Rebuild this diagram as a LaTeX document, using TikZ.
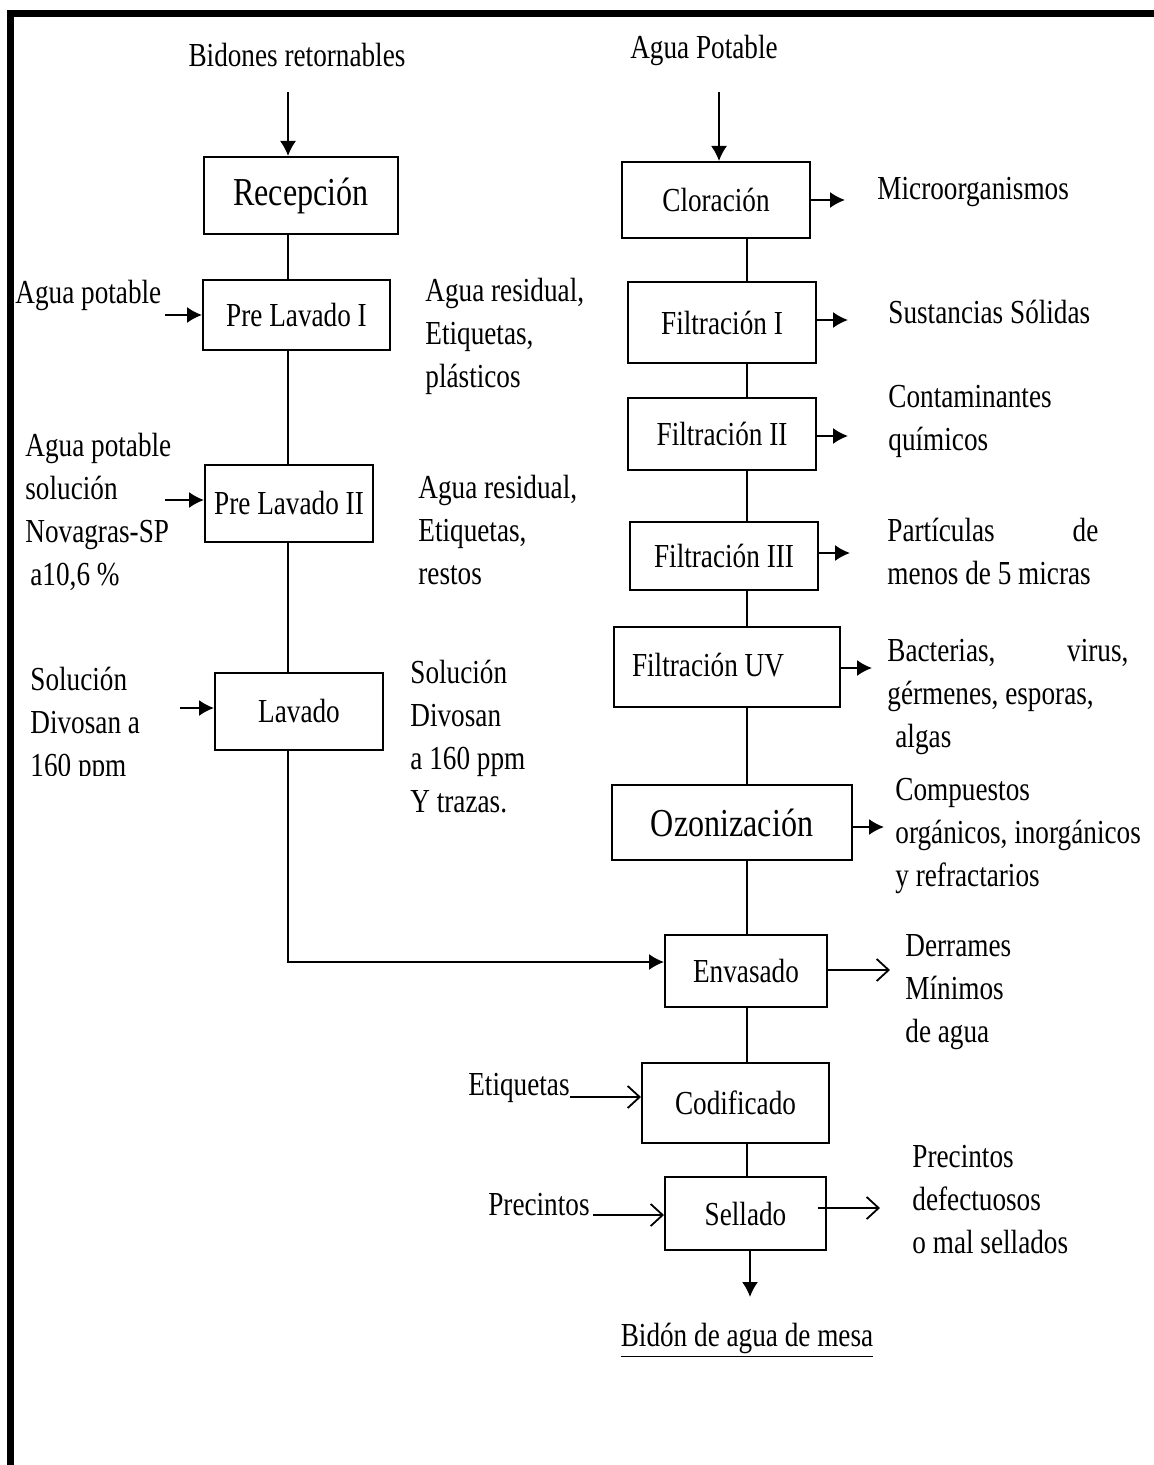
\documentclass[tikz,border=0pt]{standalone}
\usepackage{fontspec}
\setmainfont{Liberation Serif}[FakeStretch=0.81]
\usetikzlibrary{arrows.meta,calc}
\begin{document}
\begin{tikzpicture}[x=0.5pt,y=-0.5pt,
  every node/.style={font=\fontsize{16.8pt}{21.5pt}\selectfont},
  pbox/.style={draw, line width=1pt, inner sep=0pt},
  bigtext/.style={font=\fontsize{19.8pt}{24pt}\selectfont},
  txt/.style={align=left, inner sep=0pt, anchor=west},
  conn/.style={line width=0.8pt},
  farrow/.style={line width=0.9pt, -{Latex[length=7.5pt,width=8pt]}},
  oarrow/.style={line width=0.9pt, -{Straight Barb[length=6pt,width=11pt]}}]
\useasboundingbox (0,0) rectangle (1154,1465);
\fill[white] (0,0) rectangle (1154,1465);
% frame
\draw[line width=3.5pt] (10,1465) -- (10,14) -- (1154,14);

% column reference coordinates
\coordinate (lx) at (288,0);
\coordinate (rx) at (747,0);
\coordinate (tx) at (719,0);

% top labels
\node (bid) at (297,55) {Bidones retornables};
\node (agp) at (704,50) {Agua Potable};

% left column boxes
\node[pbox, bigtext, minimum width=97pt, minimum height=38.5pt] (rec) at (301,195.5) {Recepción};
\node[pbox, minimum width=93.5pt, minimum height=35pt] (pl1) at (296.5,315) {Pre Lavado I};
\node[pbox, minimum width=84pt, minimum height=38.5pt] (pl2) at (289,503.5) {Pre Lavado II};
\node[pbox, minimum width=84pt, minimum height=38.5pt] (lav) at (299,711.5) {Lavado};

% right column boxes
\node[pbox, minimum width=94pt, minimum height=38pt] (clo) at (716,200) {Cloración};
\node[pbox, minimum width=94pt, minimum height=40.5pt] (f1) at (722,322.5) {Filtración I};
\node[pbox, minimum width=94pt, minimum height=36pt] (f2) at (722,434) {Filtración II};
\node[pbox, minimum width=94pt, minimum height=34pt] (f3) at (724,556) {Filtración III};
\node[pbox, minimum width=113pt, minimum height=40pt] (fuv) at (727,667) {\hspace*{-19pt}\raisebox{2.5pt}{Filtración UV}};
\node[pbox, bigtext, minimum width=120pt, minimum height=37.5pt] (oz) at (732,822.5) {Ozonización};
\node[pbox, minimum width=81pt, minimum height=36pt] (env) at (746,971) {Envasado};
\node[pbox, minimum width=93.5pt, minimum height=40pt] (cod) at (735.5,1103) {Codificado};
\node[pbox, minimum width=80.5pt, minimum height=36.5pt] (sel) at (745.5,1213.5) {Sellado};

% left column connectors
\coordinate (bidarr) at (288,92);
\draw[farrow] (bidarr) -- (rec.north -| lx);
\draw[conn] (rec.south -| lx) -- (pl1.north -| lx);
\draw[conn] (pl1.south -| lx) -- (pl2.north -| lx);
\draw[conn] (pl2.south -| lx) -- (lav.north -| lx);
\coordinate (envin) at ($(env.west)+(0,-9)$);
\draw[farrow] (lav.south -| lx) |- (envin);

% right column connectors
\coordinate (agparr) at (719,92);
\draw[farrow] (agparr) -- (clo.north -| tx);
\draw[conn] (clo.south -| rx) -- (f1.north -| rx);
\draw[conn] (f1.south -| rx) -- (f2.north -| rx);
\draw[conn] (f2.south -| rx) -- (f3.north -| rx);
\draw[conn] (f3.south -| rx) -- (fuv.north -| rx);
\draw[conn] (fuv.south -| rx) -- (oz.north -| rx);
\draw[conn] (oz.south -| rx) -- (env.north -| rx);
\draw[conn] (env.south -| rx) -- (cod.north -| rx);
\draw[conn] (cod.south -| rx) -- (sel.north -| rx);
\coordinate (fin) at (750,1297);
\draw[farrow] (sel.south -| fin) -- (fin);
\node (bidon) at (747,1340) {\underline{Bidón de agua de mesa}};

% left inputs
\node[txt] (in1) at (15,295) {Agua potable};
\coordinate (a1) at (165,315);
\draw[farrow] (a1) -- (a1 -| pl1.west);
\node[txt] (in2) at (25,512) {Agua potable\\solución\\Novagras-SP\\\hspace*{2.5pt}a10,6 \%};
\coordinate (a2) at (165,500);
\draw[farrow] (a2) -- (a2 -| pl2.west);
\begin{scope}
\clip (12,620) rectangle (200,775);
\node[txt] (in3) at (30,725) {Solución\\Divosan a\\160 ppm};
\end{scope}
\coordinate (a3) at (180,708);
\draw[farrow] (a3) -- (a3 -| lav.west);

% left outputs
\node[txt] (o1) at (425,336) {Agua residual,\\Etiquetas,\\plásticos};
\node[txt] (o2) at (418,530) {Agua residual,\\Etiquetas,\\restos};
\node[txt] (o3) at (410,737) {Solución\\Divosan\\a 160 ppm\\Y trazas.};

% right outputs
\coordinate (b1) at (845,200);
\draw[farrow] (b1 -| clo.east) -- (b1);
\node[txt] (r1) at (877,192) {Microorganismos};
\coordinate (b2) at (848,320);
\draw[farrow] (b2 -| f1.east) -- (b2);
\node[txt] (r2) at (888,312) {Sustancias Sólidas};
\coordinate (b3) at (848,436);
\draw[farrow] (b3 -| f2.east) -- (b3);
\node[txt] (r3) at (888,421) {Contaminantes\\químicos};
\coordinate (b4) at (850,553);
\draw[farrow] (b4 -| f3.east) -- (b4);
\node[txt] (r4) at (887,551) {\makebox[105.5pt][s]{Partículas\hfill de}\\menos de 5 micras};
\coordinate (b5) at (872,668);
\draw[farrow] (b5 -| fuv.east) -- (b5);
\node[txt] (r5) at (887,697) {\makebox[120.5pt][s]{Bacterias,\hfill virus,}\\gérmenes, esporas,\\\hspace*{4pt}algas};
\coordinate (b6) at (884,827);
\draw[farrow] (b6 -| oz.east) -- (b6);
\node[txt] (r6) at (895,836) {Compuestos\\orgánicos, inorgánicos\\y refractarios};
\coordinate (b7) at (890,970);
\draw[oarrow] (b7 -| env.east) -- (b7);
\node[txt] (r7) at (905,992) {Derrames\\Mínimos\\de agua};

% bottom inputs / outputs
\node[txt, anchor=east] (etq) at (570,1088) {Etiquetas};
\coordinate (e1) at (570,1097);
\draw[oarrow] (e1) -- (e1 -| cod.west);
\node[txt, anchor=east] (pre) at (590,1205) {Precintos};
\coordinate (p1) at (593,1215);
\draw[oarrow] (p1) -- (p1 -| sel.west);
\coordinate (s1) at (818,1208);
\coordinate (s2) at (880,1208);
\draw[oarrow] (s1) -- (s2);
\node[txt] (r8) at (912,1200) {Precintos\\defectuosos\\o mal sellados};
\end{tikzpicture}
\end{document}
